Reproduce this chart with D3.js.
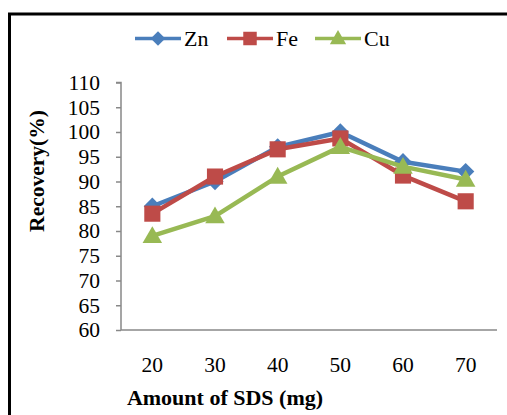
<!DOCTYPE html>
<html><head><meta charset="utf-8">
<script src="https://cdn.jsdelivr.net/npm/d3@7"></script>
<style>body{margin:0;background:#fff}svg{display:block}svg text{font-family:'Liberation Serif','DejaVu Serif',serif !important}</style>
</head><body><svg id="c" width="507" height="415"></svg>
<script>
const categories = [20, 30, 40, 50, 60, 70];
const zn = [85, 90, 97, 100, 94, 92];
const fe = [83.5, 91, 96.5, 98.7, 91.2, 86];
const cu = [79, 83, 91, 97, 93, 90.4];
const yTicks = [60, 65, 70, 75, 80, 85, 90, 95, 100, 105, 110];
const seriesNames = ["Zn", "Fe", "Cu"];
const colors = ["#4a7ebb", "#be4b48", "#98b954"];

const svg = d3.select("#c");
const pL = 121, pR = 497, pT = 82.5, pB = 330;
const x = d3.scaleBand().domain(categories).range([pL, pR]);
const y = d3.scaleLinear().domain([60, 110]).range([pB, pT]);

// outer frame (left and top edges visible)
svg.append("path").attr("d", `M9.5,415 V14 H507`).attr("fill","none").attr("stroke","#000").attr("stroke-width",3);

// y axis
const ya = svg.append("g").attr("transform", `translate(${pL},0)`)
  .call(d3.axisLeft(y).tickValues(yTicks).tickSize(5).tickPadding(16).tickFormat(d3.format("d")));
ya.attr("font-family", null);
ya.select(".domain").attr("stroke","#888").attr("stroke-width",1.5).attr("d", `M-5,${pT}H0V${pB}`);
ya.selectAll(".tick line").attr("stroke","#888").attr("stroke-width",1.5);
ya.selectAll("text").style("font-size","21.5px").attr("fill","#000");

// x axis
const xa = svg.append("g").attr("transform", `translate(0,${pB})`)
  .call(d3.axisBottom(x).tickSize(0).tickPadding(27));
xa.attr("font-family", null);
xa.select(".domain").attr("stroke","#888").attr("stroke-width",1.5).attr("d", `M${pL},0H${pR}`);
xa.selectAll("text").style("font-size","21.5px").attr("fill","#000");

// titles
svg.append("text").attr("x",225).attr("y",405).attr("text-anchor","middle")
  .style("font-size","22px").attr("font-weight","bold").text("Amount of SDS (mg)");
svg.append("text").attr("transform","translate(44,171) rotate(-90)").attr("text-anchor","middle")
  .style("font-size","21.5px").attr("font-weight","bold").text("Recovery(%)");

const symbols = [d3.symbolDiamond2, d3.symbolSquare, d3.symbolTriangle];
const symSizes = [190, 260, 165];
const data = [zn, fe, cu];
const line = d3.line().x((d,i)=>x(categories[i])+x.bandwidth()/2).y(d=>y(d));

data.forEach((vals, s) => {
  const g = svg.append("g");
  g.append("path").datum(vals).attr("d", line).attr("fill","none")
    .attr("stroke", colors[s]).attr("stroke-width",4.5).attr("stroke-linejoin","round");
  g.selectAll("path.m").data(vals).join("path").attr("class","m")
    .attr("transform",(d,i)=>`translate(${x(categories[i])+x.bandwidth()/2},${y(d) + (s===2?1.5:0)})`)
    .attr("d", d3.symbol(symbols[s], symSizes[s])).attr("fill", colors[s]);
});

// legend
const legX = [135, 227, 315];
seriesNames.forEach((n, s) => {
  const g = svg.append("g").attr("transform", `translate(${legX[s]},38.5)`);
  g.append("line").attr("x1",0).attr("x2",46).attr("stroke",colors[s]).attr("stroke-width",3.5);
  g.append("path").attr("transform",`translate(23,${s===2?1:0})`).attr("d", d3.symbol(symbols[s], symSizes[s]*0.7)).attr("fill",colors[s]);
  g.append("text").attr("x",49).attr("y",7.5).style("font-size","22px").text(n);
});
</script></body></html>
